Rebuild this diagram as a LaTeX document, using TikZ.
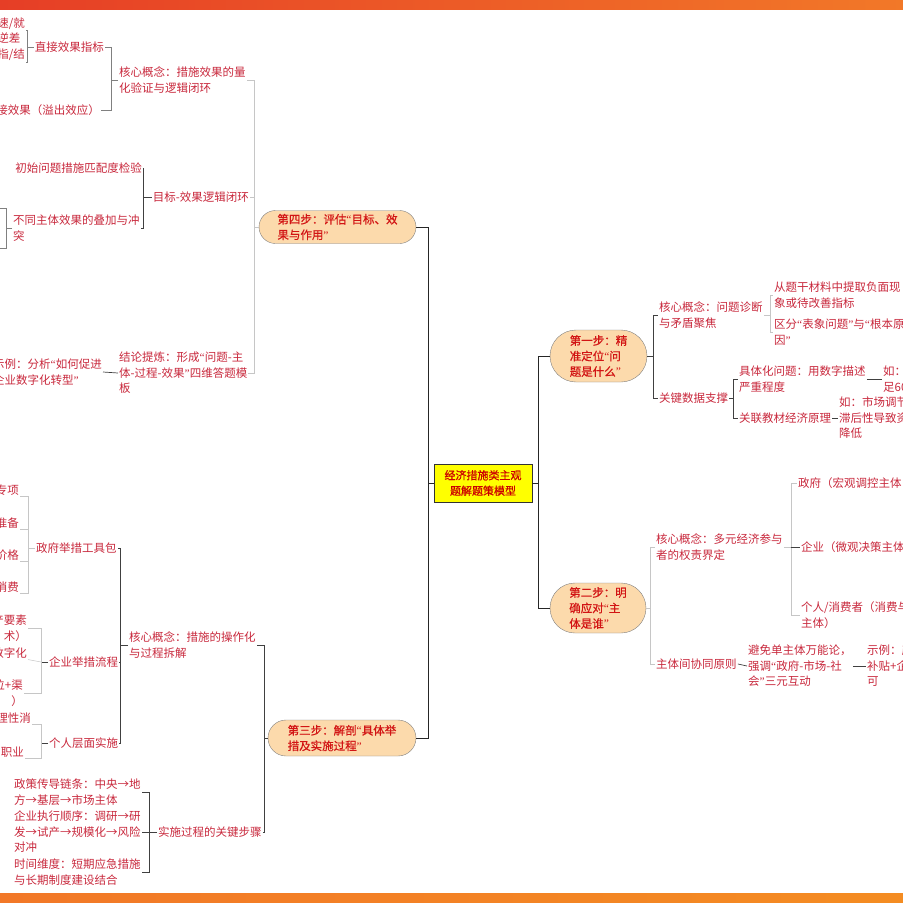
\documentclass[tikz,border=0pt]{standalone}
\usepackage{fontspec}
\setmainfont{Noto Sans CJK SC}
\newfontfamily\qtfont{Liberation Serif}
\newfontfamily\stagefont[FakeBold=0.6]{Noto Sans CJK SC}
\newcommand{\qo}{{\qtfont“}}
\newcommand{\qc}{{\qtfont”}}
\usetikzlibrary{shapes.misc}
\definecolor{leafred}{RGB}{200,40,60}
\definecolor{stagered}{RGB}{210,20,20}
\definecolor{stagefill}{RGB}{252,218,172}
\definecolor{hubyellow}{RGB}{255,255,0}
\definecolor{bandred}{RGB}{230,62,38}
\definecolor{bandorange}{RGB}{242,120,40}
\tikzstyle{leaf}=[text=leafred, font=\fontsize{11.5}{15.5}\selectfont, inner sep=1pt, align=left]
\tikzstyle{stage}=[draw=gray, fill=stagefill, rounded rectangle, text=stagered,
  font=\stagefont\fontsize{11.5}{15.5}\selectfont, align=left, inner sep=2pt]
\tikzstyle{hub}=[draw=black!80, thick, fill=hubyellow, text=red!80!black, align=center,
  font=\stagefont\fontsize{11}{15.5}\selectfont, minimum width=98pt, minimum height=38pt]
\tikzstyle{trunk}=[black!85, line width=0.9pt]
\tikzstyle{brk}=[black!75, line width=0.7pt]
\tikzstyle{midbrk}=[black!50, line width=0.6pt]
\tikzstyle{lite}=[gray!45, line width=0.5pt]
\begin{document}
\begin{tikzpicture}[x=1pt, y=-1pt]
  \useasboundingbox (0,0) rectangle (903,903);
  \clip (0,0) rectangle (903,903);
  \shade[left color=bandred, right color=bandorange] (0,0) rectangle (903,9);
  \shade[left color=bandorange, right color=bandorange!85!yellow] (0,893) rectangle (903,903);

  \node[hub] (hub) at (483,483) {经济措施类主观\\题解题策模型};
  \node[stage, minimum width=101pt, minimum height=52pt] (s1) at (598.5,356) {第一步：精\\准定位\qo 问\\题是什么\qc};
  \node[stage, minimum width=100pt, minimum height=50pt] (s2) at (598,608) {第二步：明\\确应对\qo 主\\体是谁\qc};
  \node[stage, minimum width=152pt, minimum height=36pt] (s3) at (342,738) {第三步：解剖\qo 具体举\\措及实施过程\qc};
  \node[stage, minimum width=161pt, minimum height=33pt] (s4) at (337.5,227) {第四步：评估\qo 目标、效\\果与作用\qc};

  \draw[trunk] (hub.west) -- ++(-5,0) |- (s4.east) (hub.west) -- ++(-5,0) |- (s3.east);
  \draw[trunk] (hub.east) -- ++(6,0) |- (s1.west) (hub.east) -- ++(6,0) |- (s2.west);

  % first step
  \node[leaf, anchor=west] (a1) at (658,315) {核心概念：问题诊断\\与矛盾聚焦};
  \node[leaf, anchor=west] (a2) at (658,398) {关键数据支撑};
  \node[leaf, anchor=west] (a11) at (773,295) {从题干材料中提取负面现\\象或待改善指标};
  \node[leaf, anchor=west] (a12) at (773,332) {区分\qo 表象问题\qc 与\qo 根本原\\因\qc};
  \node[leaf, anchor=west] (a21) at (738,379) {具体化问题：用数字描述\\严重程度};
  \node[leaf, anchor=west] (a22) at (738,418) {关联教材经济原理};
  \node[leaf, anchor=west] (a211) at (882,379) {如：\\足60};
  \node[leaf, anchor=west] (a221) at (838,418) {如：市场调节\\滞后性导致资\\降低};

  \draw[brk] (s1.east) -- ++(6,0) |- (a1.west) (s1.east) -- ++(6,0) |- (a2.west);
  \draw[lite] (a1.east) -- ++(6,0) |- (a11.west) (a1.east) -- ++(6,0) |- (a12.west);
  \draw[brk] (a2.east) -- ++(4,0) |- (a21.west) (a2.east) -- ++(4,0) |- (a22.west);
  \draw[brk] (a21.east) -- (a211.west);
  \draw[brk] (a22.east) -- (a221.west);

  % second step
  \node[leaf, anchor=west] (b1) at (655,547) {核心概念：多元经济参与\\者的权责界定};
  \node[leaf, anchor=west] (b2) at (655,664) {主体间协同原则};
  \node[leaf, anchor=west] (b11) at (797,483) {政府（宏观调控主体};
  \node[leaf, anchor=west] (b12) at (800,547) {企业（微观决策主体};
  \node[leaf, anchor=west] (b13) at (800,615) {个人/消费者（消费与\\主体）};
  \node[leaf, anchor=west] (b21) at (747,666) {避免单主体万能论，\\强调\qo 政府-市场-社\\会\qc 三元互动};
  \node[leaf, anchor=west] (b211) at (866,666) {示例：产\\补贴+企\\可};

  \draw[lite] (s2.east) -- ++(4,0) |- (b1.west) (s2.east) -- ++(4,0) |- (b2.west);
  \draw[lite] (b1.east) -- ++(7,0) |- (b11.west) (b1.east) -- ++(7,0) |- (b13.west);
  \draw[brk] (b1.east) ++(7,0) -- (b12.west);
  \draw[brk] (b2.east) -- (b21.west);
  \draw[brk] (b21.east) -- (b211.west);

  % fourth step
  \node[leaf, anchor=west] (c1) at (118,80) {核心概念：措施效果的量\\化验证与逻辑闭环};
  \node[leaf, anchor=east] (c2) at (250,197) {目标-效果逻辑闭环};
  \node[leaf, anchor=west] (c3) at (118,373) {结论提炼：形成\qo 问题-主\\体-过程-效果\qc 四维答题模\\板};
  \node[leaf, anchor=east] (c11) at (105,47) {直接效果指标};
  \node[leaf, anchor=east] (c12) at (101,110) {间接效果（溢出效应）};
  \node[leaf, anchor=east] (c111) at (26,30.5) {速/就\\逆差};
  \node[leaf, anchor=north east] (c112) at (26,48) {指/结};
  \node[leaf, anchor=east] (c21) at (143,168) {初始问题措施匹配度检验};
  \node[leaf, anchor=west] (c22) at (12,228) {不同主体效果的叠加与冲\\突};
  \node[leaf, anchor=east] (c31) at (103,372) {示例：分析\qo 如何促进\\企业数字化转型\qc};
  \coordinate (c22up) at (-10,208);
  \coordinate (c22dn) at (-10,248);

  \draw[lite] (s4.west) -- ++(-5,0) |- (c1.east) (s4.west) -- ++(-5,0) |- (c2.east)
    (s4.west) -- ++(-5,0) |- (c3.east);
  \draw[midbrk] (c1.west) -- ++(-7,0) |- (c11.east) (c1.west) -- ++(-7,0) |- (c12.east);
  \draw[midbrk] (c11.west) -- ++(-6,0) |- (c111.east) (c11.west) -- ++(-6,0) |- (c112.south east);
  \draw[brk] (c2.west) -- ++(-8,0) |- (c21.east) (c2.west) -- ++(-8,0) |- (c22.east);
  \draw[midbrk] (c22.west) -- ++(-6,0) |- (c22up) (c22.west) -- ++(-6,0) |- (c22dn);
  \draw[brk] (c3.west) -- (c31.east);

  % third step
  \node[leaf, anchor=west] (d1) at (128,645) {核心概念：措施的操作化\\与过程拆解};
  \node[leaf, anchor=west] (d2) at (157,832) {实施过程的关键步骤};
  \node[leaf, anchor=west] (d11) at (35,548) {政府举措工具包};
  \node[leaf, anchor=west] (d12) at (48,662) {企业举措流程};
  \node[leaf, anchor=west] (d13) at (48,743) {个人层面实施};
  \node[leaf, anchor=east] (g1) at (20,490) {专项};
  \node[leaf, anchor=east] (g2) at (20,523) {准备};
  \node[leaf, anchor=east] (g3) at (20,555) {价格};
  \node[leaf, anchor=east] (g4) at (20,587) {消费};
  \node[leaf, anchor=east, align=right] (e1) at (28,628) {产要素\\术）};
  \node[leaf, anchor=east] (e2) at (28,653) {数字化};
  \node[leaf, anchor=east, align=right] (e3) at (24,693) {位+渠\\）};
  \node[leaf, anchor=east] (p1) at (32,718) {理性消};
  \node[leaf, anchor=east] (p2) at (25,752) {职业};
  \node[leaf, anchor=west] (t1) at (13,792) {政策传导链条：中央→地\\方→基层→市场主体};
  \node[leaf, anchor=west] (t2) at (13,832) {企业执行顺序：调研→研\\发→试产→规模化→风险\\对冲};
  \node[leaf, anchor=west] (t3) at (13,872) {时间维度：短期应急措施\\与长期制度建设结合};

  \draw[brk] (s3.west) -- ++(-3,0) |- (d1.east) (s3.west) -- ++(-3,0) |- (d2.east);
  \draw[brk] (d1.west) -- ++(-8,0) |- (d11.east) (d1.west) -- ++(-8,0) |- (d12.east)
    (d1.west) -- ++(-8,0) |- (d13.east);
  \draw[lite] (d11.west) -- ++(-7,0) |- (g1.south east) (d11.west) -- ++(-7,0) |- (g2.south east)
    (d11.west) -- ++(-7,0) |- (g3.south east) (d11.west) -- ++(-7,0) |- (g4.south east);
  \draw[lite] (d12.west) -- ++(-7,0) |- (e1.east) (d12.west) -- ++(-7,0) |- (e3.east);
  \draw[brk] (d12.west) -- ++(-6,0);
  \draw[lite] (d12.west) ++(-7,0) -- (e2.south east);
  \draw[lite] (d13.west) -- ++(-7,0) |- (p1.south east) (d13.west) -- ++(-7,0) |- (p2.south east);
  \draw[brk] (d13.west) -- ++(-6,0);
  \draw[brk] (d2.west) -- ++(-8,0) |- (t1.east) (d2.west) -- ++(-8,0) |- (t2.east)
    (d2.west) -- ++(-8,0) |- (t3.east);
\end{tikzpicture}
\end{document}
